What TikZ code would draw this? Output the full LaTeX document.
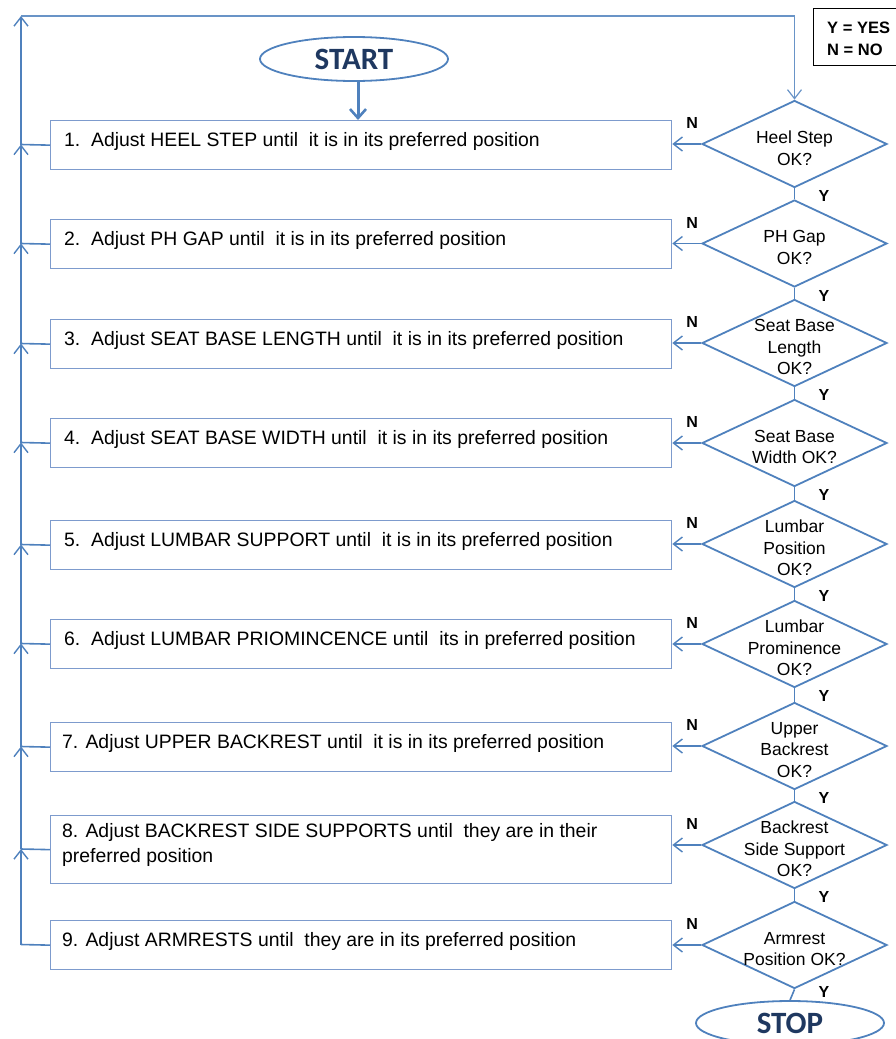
\documentclass[tikz,border=0pt]{standalone}
\usepackage{fontspec}
\setmainfont{Liberation Sans}
\newfontfamily\calib{Carlito}
\usetikzlibrary{shapes.geometric,arrows.meta}
\definecolor{fblue}{RGB}{79,129,189}
\definecolor{bblue}{RGB}{125,155,205}
\definecolor{navy}{RGB}{31,56,96}
\begin{document}
\begin{tikzpicture}[x=1pt,y=-1pt,
  box/.style={draw=bblue,line width=1.3pt,minimum width=621pt,inner sep=0pt},
  btext/.style={anchor=base west,inner sep=0pt,font=\fontsize{19.4}{25}\selectfont,align=left},
  dia/.style={diamond,draw=fblue,line width=1.8pt,minimum width=185pt,minimum height=87pt,inner sep=0pt},
  dtext/.style={font=\fontsize{17.5}{21.5}\selectfont,align=center,inner sep=0pt,yshift=-4pt},
  lab/.style={font=\fontsize{16}{16}\selectfont\bfseries,inner sep=0pt},
  conn/.style={draw=fblue,line width=1.6pt},
  barb/.style={conn,-{Straight Barb[length=9pt,width=14pt,line width=1.4pt]}},
  oval/.style={ellipse,draw=fblue,line width=1.8pt,minimum width=188pt,minimum height=44pt,inner sep=0pt,
    font=\calib\bfseries\fontsize{31}{31}\selectfont,text=navy}
]
\useasboundingbox (0,0) rectangle (896,1039);
% legend
\node[draw=black,line width=1.3pt,minimum width=84pt,minimum height=57pt,anchor=north west,inner sep=0pt] (legend) at (813,8) {};
\node[lab,anchor=base west,font=\fontsize{16.5}{16.5}\selectfont\bfseries] (ly) at (827,33) {Y = YES};
\node[lab,anchor=base west,font=\fontsize{16.5}{16.5}\selectfont\bfseries] (ln) at (827,55) {N = NO};
% start / stop
\node[oval] (start) at (354,59) {START};
\node[oval] (stop) at (790,1023) {STOP};
% boxes
\node[box,minimum height=49pt,anchor=north west] (b1) at (50,120) {};
\node[box,minimum height=49pt,anchor=north west] (b2) at (50,219) {};
\node[box,minimum height=49pt,anchor=north west] (b3) at (50,319) {};
\node[box,minimum height=49pt,anchor=north west] (b4) at (50,418) {};
\node[box,minimum height=49pt,anchor=north west] (b5) at (50,520) {};
\node[box,minimum height=49pt,anchor=north west] (b6) at (50,619) {};
\node[box,minimum height=49pt,anchor=north west] (b7) at (50,722) {};
\node[box,minimum height=68pt,anchor=north west] (b8) at (50,815) {};
\node[box,minimum height=49pt,anchor=north west] (b9) at (50,920) {};
\node[btext] (t1) at (64,146) {1.\ \ Adjust HEEL STEP until\ \ it is in its preferred position};
\node[btext] (t2) at (64,245) {2.\ \ Adjust PH GAP until\ \ it is in its preferred position};
\node[btext] (t3) at (64,345) {3.\ \ Adjust SEAT BASE LENGTH until\ \ it is in its preferred position};
\node[btext] (t4) at (64,444) {4.\ \ Adjust SEAT BASE WIDTH until\ \ it is in its preferred position};
\node[btext] (t5) at (64,546) {5.\ \ Adjust LUMBAR SUPPORT until\ \ it is in its preferred position};
\node[btext] (t6) at (64,645) {6.\ \ Adjust LUMBAR PRIOMINCENCE until\ \ its in preferred position};
\node[btext] (t7) at (62,748) {7. Adjust UPPER BACKREST until\ \ it is in its preferred position};
\node[btext,anchor=west] (t8) at (62,845) {8. Adjust BACKREST SIDE SUPPORTS until\ \ they are in their\\preferred position};
\node[btext] (t9) at (62,946) {9. Adjust ARMRESTS until\ \ they are in its preferred position};
% diamonds
\node[dia,label={[dtext]center:Heel Step\\OK?}] (d1) at (794.5,144) {};
\node[dia,label={[dtext]center:PH Gap\\OK?}] (d2) at (794.5,243.5) {};
\node[dia,label={[dtext]center:Seat Base\\Length\\OK?}] (d3) at (794.5,343) {};
\node[dia,label={[dtext]center:Seat Base\\Width OK?}] (d4) at (794.5,443) {};
\node[dia,label={[dtext]center:Lumbar\\Position\\OK?}] (d5) at (794.5,544) {};
\node[dia,label={[dtext]center:Lumbar\\Prominence\\OK?}] (d6) at (794.5,644) {};
\node[dia,label={[dtext]center:Upper\\Backrest\\OK?}] (d7) at (794.5,746) {};
\node[dia,label={[dtext]center:Backrest\\Side Support\\OK?}] (d8) at (794.5,845) {};
\node[dia,label={[dtext]center:Armrest\\Position OK?}] (d9) at (794.5,945) {};
% Y links
\foreach \a/\b in {d1/d2,d2/d3,d3/d4,d4/d5,d5/d6,d6/d7,d7/d8,d8/d9,d9/stop}{
  \draw[conn] (\a.south) -- (\b.north);
}
% Y labels
\foreach \d in {d1,d2,d3,d4,d5,d6,d7,d8}{
  \node[lab] at ([xshift=29.5pt,yshift=-8pt]\d.south) {Y};
}
\node[lab] (y9) at ([xshift=29.5pt,yshift=-3pt]d9.south) {Y};
% N arrows and labels
\foreach \i in {1,...,9}{
  \draw[barb] (d\i.west) -- (b\i.east |- d\i.west);
  \node[lab] at ([xshift=-9pt,yshift=21pt]d\i.west) {N};
}
% start arrow
\draw[draw=fblue,line width=3pt,-{Straight Barb[length=9pt,width=16pt,line width=2.6pt]}] ([xshift=4pt]start.south) -- ([xshift=4pt]start.south |- b1.north);
% left return line
\foreach \i/\yy in {1/144.5,2/243.5,3/343.5,4/442.5,5/544.5,6/643.5,7/746.5,8/849,9/944.5}{
  \coordinate (L\i) at (21,\yy);
  \draw[conn] (b\i.west) -- (L\i);
}
\foreach \i/\j in {9/8,8/7,7/6,6/5,5/4,4/3,3/2,2/1}{
  \draw[barb] (L\i) -- (L\j);
}
\coordinate (TL) at (21,16);
\draw[barb] (L1) -- (TL);
\draw[draw=fblue!85,line width=1.2pt,-{Straight Barb[length=9pt,width=14pt,line width=1.2pt]}] (TL) -| (d1.north);
\end{tikzpicture}
\end{document}
